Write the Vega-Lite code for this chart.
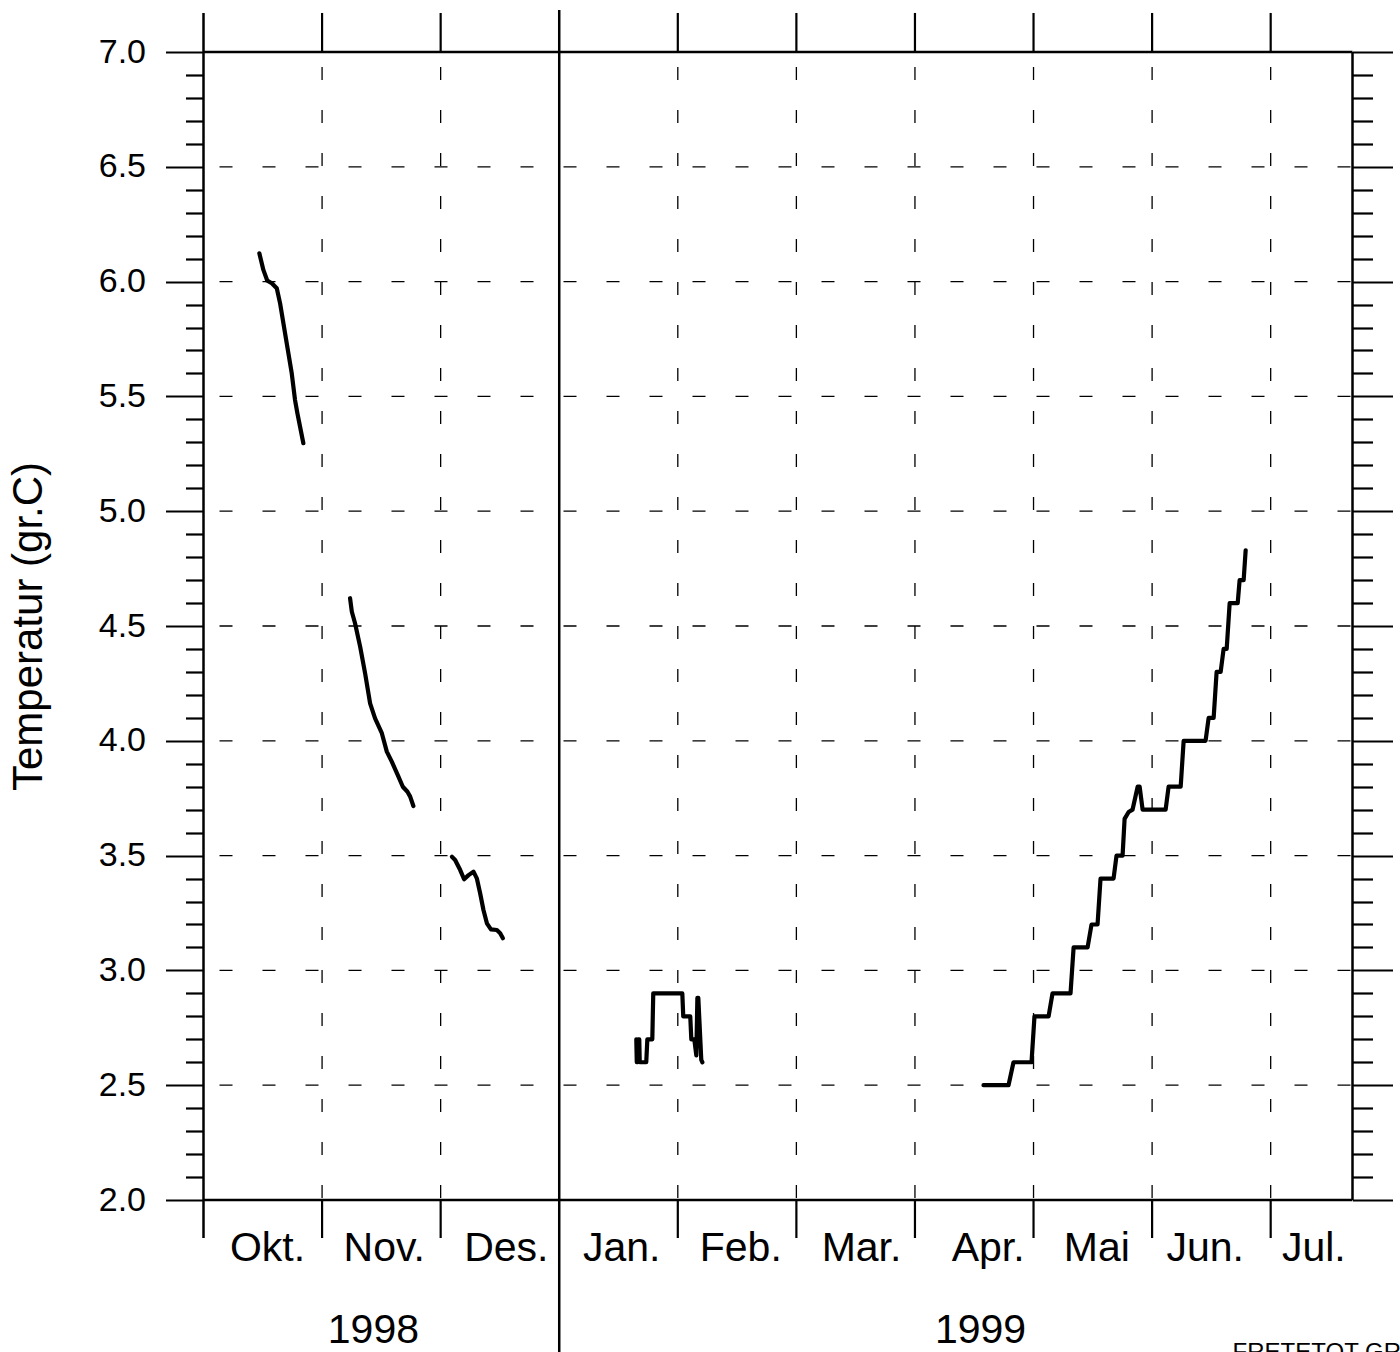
{
  "$schema": "https://vega.github.io/schema/vega-lite/v6.json",
  "width": 1149,
  "height": 1148,
  "autosize": {"type": "none"},
  "padding": {"left": 203.5, "top": 52, "right": 47.5, "bottom": 152},
  "background": "white",
  "config": {
    "view": {"stroke": null},
    "axis": {"grid": false, "domain": false},
    "text": {"font": "Liberation Sans", "color": "black"}
  },
  "datasets": {
    "temp": [
      {"seg": 1, "m": 0.471, "t": 6.123}, {"seg": 1, "m": 0.505, "t": 6.051}, {"seg": 1, "m": 0.538, "t": 6.004},
      {"seg": 1, "m": 0.576, "t": 5.993}, {"seg": 1, "m": 0.618, "t": 5.971}, {"seg": 1, "m": 0.646, "t": 5.905},
      {"seg": 1, "m": 0.702, "t": 5.731}, {"seg": 1, "m": 0.744, "t": 5.601}, {"seg": 1, "m": 0.772, "t": 5.484},
      {"seg": 1, "m": 0.792, "t": 5.426}, {"seg": 1, "m": 0.842, "t": 5.296},
      {"seg": 2, "m": 1.236, "t": 4.621}, {"seg": 2, "m": 1.251, "t": 4.562}, {"seg": 2, "m": 1.278, "t": 4.512},
      {"seg": 2, "m": 1.321, "t": 4.41}, {"seg": 2, "m": 1.363, "t": 4.294}, {"seg": 2, "m": 1.405, "t": 4.163},
      {"seg": 2, "m": 1.447, "t": 4.098}, {"seg": 2, "m": 1.504, "t": 4.033}, {"seg": 2, "m": 1.546, "t": 3.953},
      {"seg": 2, "m": 1.588, "t": 3.909}, {"seg": 2, "m": 1.644, "t": 3.844}, {"seg": 2, "m": 1.681, "t": 3.8},
      {"seg": 2, "m": 1.72, "t": 3.778}, {"seg": 2, "m": 1.743, "t": 3.757}, {"seg": 2, "m": 1.77, "t": 3.716},
      {"seg": 3, "m": 2.095, "t": 3.495}, {"seg": 3, "m": 2.122, "t": 3.481}, {"seg": 3, "m": 2.165, "t": 3.437},
      {"seg": 3, "m": 2.198, "t": 3.397}, {"seg": 3, "m": 2.235, "t": 3.415}, {"seg": 3, "m": 2.277, "t": 3.43},
      {"seg": 3, "m": 2.305, "t": 3.401}, {"seg": 3, "m": 2.333, "t": 3.336}, {"seg": 3, "m": 2.361, "t": 3.263},
      {"seg": 3, "m": 2.39, "t": 3.205}, {"seg": 3, "m": 2.424, "t": 3.179}, {"seg": 3, "m": 2.474, "t": 3.176},
      {"seg": 3, "m": 2.502, "t": 3.162}, {"seg": 3, "m": 2.525, "t": 3.14},
      {"seg": 4, "m": 3.65, "t": 2.7}, {"seg": 4, "m": 3.654, "t": 2.6}, {"seg": 4, "m": 3.662, "t": 2.6},
      {"seg": 4, "m": 3.667, "t": 2.7}, {"seg": 4, "m": 3.675, "t": 2.7}, {"seg": 4, "m": 3.679, "t": 2.6},
      {"seg": 4, "m": 3.734, "t": 2.6}, {"seg": 4, "m": 3.743, "t": 2.7}, {"seg": 4, "m": 3.785, "t": 2.7},
      {"seg": 4, "m": 3.793, "t": 2.9}, {"seg": 4, "m": 4.038, "t": 2.9}, {"seg": 4, "m": 4.046, "t": 2.8},
      {"seg": 4, "m": 4.105, "t": 2.8}, {"seg": 4, "m": 4.114, "t": 2.7}, {"seg": 4, "m": 4.139, "t": 2.7},
      {"seg": 4, "m": 4.156, "t": 2.63}, {"seg": 4, "m": 4.165, "t": 2.88}, {"seg": 4, "m": 4.173, "t": 2.88},
      {"seg": 4, "m": 4.198, "t": 2.61}, {"seg": 4, "m": 4.207, "t": 2.6},
      {"seg": 5, "m": 6.578, "t": 2.5}, {"seg": 5, "m": 6.789, "t": 2.5}, {"seg": 5, "m": 6.831, "t": 2.6},
      {"seg": 5, "m": 6.983, "t": 2.6}, {"seg": 5, "m": 7.008, "t": 2.8}, {"seg": 5, "m": 7.127, "t": 2.8},
      {"seg": 5, "m": 7.16, "t": 2.9}, {"seg": 5, "m": 7.312, "t": 2.9}, {"seg": 5, "m": 7.338, "t": 3.1},
      {"seg": 5, "m": 7.456, "t": 3.1}, {"seg": 5, "m": 7.489, "t": 3.2}, {"seg": 5, "m": 7.54, "t": 3.2},
      {"seg": 5, "m": 7.565, "t": 3.4}, {"seg": 5, "m": 7.675, "t": 3.4}, {"seg": 5, "m": 7.7, "t": 3.5},
      {"seg": 5, "m": 7.751, "t": 3.5}, {"seg": 5, "m": 7.768, "t": 3.66}, {"seg": 5, "m": 7.802, "t": 3.69},
      {"seg": 5, "m": 7.835, "t": 3.7}, {"seg": 5, "m": 7.878, "t": 3.8}, {"seg": 5, "m": 7.895, "t": 3.8},
      {"seg": 5, "m": 7.92, "t": 3.7}, {"seg": 5, "m": 8.114, "t": 3.7}, {"seg": 5, "m": 8.139, "t": 3.8},
      {"seg": 5, "m": 8.241, "t": 3.8}, {"seg": 5, "m": 8.266, "t": 4.0}, {"seg": 5, "m": 8.451, "t": 4.0},
      {"seg": 5, "m": 8.477, "t": 4.1}, {"seg": 5, "m": 8.519, "t": 4.1}, {"seg": 5, "m": 8.544, "t": 4.3},
      {"seg": 5, "m": 8.578, "t": 4.3}, {"seg": 5, "m": 8.603, "t": 4.4}, {"seg": 5, "m": 8.629, "t": 4.4},
      {"seg": 5, "m": 8.654, "t": 4.6}, {"seg": 5, "m": 8.722, "t": 4.6}, {"seg": 5, "m": 8.738, "t": 4.7},
      {"seg": 5, "m": 8.772, "t": 4.7}, {"seg": 5, "m": 8.789, "t": 4.83}
    ],
    "hgrid": [{"v": 2.5}, {"v": 3.0}, {"v": 3.5}, {"v": 4.0}, {"v": 4.5}, {"v": 5.0}, {"v": 5.5}, {"v": 6.0}, {"v": 6.5}],
    "bounds": [{"b": 1}, {"b": 2}, {"b": 4}, {"b": 5}, {"b": 6}, {"b": 7}, {"b": 8}, {"b": 9}],
    "years": [{"year": "1998", "pos": 1.433}, {"year": "1999", "pos": 6.553}],
    "note": [{"txt": "FRETETOT GRENSE"}],
    "one": [{}]
  },
  "resolve": {"axis": {"x": "independent", "y": "independent"}},
  "layer": [
    {
      "data": {"name": "hgrid"},
      "mark": {"type": "rule", "color": "black", "strokeWidth": 1.3, "strokeDash": [13, 30], "strokeDashOffset": 41},
      "encoding": {
        "y": {
          "field": "v", "type": "quantitative",
          "scale": {"domain": [2, 7], "nice": false, "zero": false},
          "axis": {
            "orient": "left",
            "values": [2.0, 2.1, 2.2, 2.3, 2.4, 2.5, 2.6, 2.7, 2.8, 2.9, 3.0, 3.1, 3.2, 3.3, 3.4, 3.5, 3.6, 3.7, 3.8, 3.9, 4.0, 4.1, 4.2, 4.3, 4.4, 4.5, 4.6, 4.7, 4.8, 4.9, 5.0, 5.1, 5.2, 5.3, 5.4, 5.5, 5.6, 5.7, 5.8, 5.9, 6.0, 6.1, 6.2, 6.3, 6.4, 6.5, 6.6, 6.7, 6.8, 6.9, 7.0],
            "grid": false, "domain": false,
            "ticks": true, "tickColor": "black", "tickWidth": 2.2,
            "tickSize": {"condition": {"test": "abs(datum.value*2 - round(datum.value*2)) < 0.001", "value": 38}, "value": 18},
            "labelExpr": "abs(datum.value*2 - round(datum.value*2)) < 0.001 ? format(datum.value, '.1f') : ''",
            "labelFont": "Liberation Sans", "labelFontSize": 34, "labelColor": "black", "labelPadding": 20,
            "labelOverlap": false, "labelFlush": false, "labelBound": false,
            "title": "Temperatur (gr.C)", "titleFont": "Liberation Sans", "titleFontSize": 42, "titleFontWeight": "normal",
            "titleColor": "black", "titleX": -175, "titleY": 574, "titleAngle": -90, "titleBaseline": "middle", "titleAlign": "center"
          }
        }
      }
    },
    {
      "data": {"name": "bounds"},
      "mark": {"type": "rule", "color": "black", "strokeWidth": 1.3, "strokeDash": [13, 30], "strokeDashOffset": 28},
      "encoding": {
        "x": {"field": "b", "type": "quantitative", "scale": {"domain": [0, 9.69], "nice": false, "zero": false}, "axis": null}
      }
    },
    {
      "data": {"name": "bounds"},
      "mark": {"type": "rule", "color": "black", "strokeWidth": 2.2},
      "encoding": {
        "x": {"field": "b", "type": "quantitative", "scale": {"domain": [0, 9.69], "nice": false, "zero": false}, "axis": null},
        "y": {"datum": 7, "type": "quantitative", "scale": {"domain": [2, 7], "nice": false, "zero": false}, "axis": null},
        "y2": {"datum": 7.17}
      }
    },
    {
      "data": {"name": "bounds"},
      "mark": {"type": "rule", "color": "black", "strokeWidth": 2.2},
      "encoding": {
        "x": {"field": "b", "type": "quantitative", "scale": {"domain": [0, 9.69], "nice": false, "zero": false}, "axis": null},
        "y": {"datum": 2, "type": "quantitative", "scale": {"domain": [2, 7], "nice": false, "zero": false}, "axis": null},
        "y2": {"datum": 1.8345}
      }
    },
    {
      "data": {"name": "one"},
      "mark": {"type": "rule", "color": "black", "strokeWidth": 2.5},
      "encoding": {
        "x": {"datum": 3, "type": "quantitative", "scale": {"domain": [0, 9.69], "nice": false, "zero": false}, "axis": null},
        "y": {"datum": 7.183, "type": "quantitative", "scale": {"domain": [2, 7], "nice": false, "zero": false}, "axis": null},
        "y2": {"datum": 1.3}
      }
    },
    {
      "data": {"name": "one"},
      "mark": {"type": "rule", "color": "black", "strokeWidth": 2.5},
      "encoding": {
        "x": {"datum": 0, "type": "quantitative", "scale": {"domain": [0, 9.69], "nice": false, "zero": false}, "axis": null},
        "y": {"datum": 7.17, "type": "quantitative", "scale": {"domain": [2, 7], "nice": false, "zero": false}, "axis": null},
        "y2": {"datum": 1.8345}
      }
    },
    {
      "data": {"name": "one"},
      "mark": {"type": "rule", "color": "black", "strokeWidth": 2.5},
      "encoding": {
        "x": {"datum": 9.69, "type": "quantitative", "scale": {"domain": [0, 9.69], "nice": false, "zero": false}, "axis": null}
      }
    },
    {
      "data": {"name": "one"},
      "mark": {"type": "rule", "color": "black", "strokeWidth": 2.5},
      "encoding": {
        "y": {"datum": 7, "type": "quantitative", "scale": {"domain": [2, 7], "nice": false, "zero": false}, "axis": null}
      }
    },
    {
      "data": {"name": "one"},
      "mark": {"type": "rule", "color": "black", "strokeWidth": 2.5},
      "encoding": {
        "y": {"datum": 2, "type": "quantitative", "scale": {"domain": [2, 7], "nice": false, "zero": false}, "axis": null}
      }
    },
    {
      "data": {"name": "temp"},
      "mark": {"type": "line", "color": "black", "strokeWidth": 4.2, "strokeJoin": "round", "strokeCap": "round"},
      "encoding": {
        "x": {
          "field": "m", "type": "quantitative",
          "scale": {"domain": [0, 9.69], "nice": false, "zero": false},
          "axis": {
            "orient": "bottom",
            "values": [0.536, 1.52, 2.55, 3.523, 4.527, 5.545, 6.613, 7.53, 8.443, 9.36],
            "ticks": false, "domain": false, "grid": false,
            "labelExpr": "['Okt.','Nov.','Des.','Jan.','Feb.','Mar.','Apr.','Mai','Jun.','Jul.'][floor(datum.value)]",
            "labelFont": "Liberation Sans", "labelFontSize": 41, "labelColor": "black", "labelPadding": 28,
            "labelOverlap": false, "labelFlush": false, "labelBound": false,
            "title": null
          }
        },
        "y": {
          "field": "t", "type": "quantitative",
          "scale": {"domain": [2, 7], "nice": false, "zero": false},
          "axis": {
            "orient": "right",
            "values": [2.0, 2.1, 2.2, 2.3, 2.4, 2.5, 2.6, 2.7, 2.8, 2.9, 3.0, 3.1, 3.2, 3.3, 3.4, 3.5, 3.6, 3.7, 3.8, 3.9, 4.0, 4.1, 4.2, 4.3, 4.4, 4.5, 4.6, 4.7, 4.8, 4.9, 5.0, 5.1, 5.2, 5.3, 5.4, 5.5, 5.6, 5.7, 5.8, 5.9, 6.0, 6.1, 6.2, 6.3, 6.4, 6.5, 6.6, 6.7, 6.8, 6.9, 7.0],
            "grid": false, "domain": false, "labels": false, "title": null,
            "ticks": true, "tickColor": "black", "tickWidth": 2.2,
            "tickSize": {"condition": {"test": "abs(datum.value*2 - round(datum.value*2)) < 0.001", "value": 40}, "value": 20}
          }
        },
        "detail": {"field": "seg", "type": "nominal"}
      }
    },
    {
      "data": {"name": "years"},
      "mark": {"type": "text", "fontSize": 41, "font": "Liberation Sans", "align": "center", "baseline": "alphabetic", "color": "black"},
      "encoding": {
        "x": {"field": "pos", "type": "quantitative", "scale": {"domain": [0, 9.69], "nice": false, "zero": false}, "axis": null},
        "y": {"datum": 1.377, "type": "quantitative", "scale": {"domain": [2, 7], "nice": false, "zero": false}, "axis": null},
        "text": {"field": "year"}
      }
    },
    {
      "data": {"name": "note"},
      "mark": {"type": "text", "fontSize": 24, "font": "Liberation Sans", "align": "left", "baseline": "alphabetic", "color": "black"},
      "encoding": {
        "x": {"datum": 8.679, "type": "quantitative", "scale": {"domain": [0, 9.69], "nice": false, "zero": false}, "axis": null},
        "y": {"datum": 1.303, "type": "quantitative", "scale": {"domain": [2, 7], "nice": false, "zero": false}, "axis": null},
        "text": {"field": "txt"}
      }
    }
  ]
}
